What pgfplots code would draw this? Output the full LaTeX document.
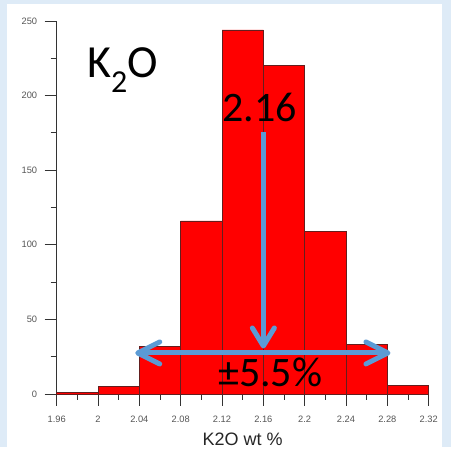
\documentclass[border=0pt]{standalone}
\usepackage{pgfplots}
\pgfplotsset{compat=1.18}
\usepackage{fontspec}
\setmainfont{Liberation Sans}
\newfontfamily\calibri{Carlito}
\usetikzlibrary{arrows.meta}
\definecolor{bgblue}{RGB}{222,235,247}
\definecolor{arrowblue}{RGB}{91,155,213}
\definecolor{barred}{RGB}{255,0,0}
\definecolor{baredge}{RGB}{100,30,30}
\definecolor{ticklab}{RGB}{85,85,85}
\begin{document}
\begin{tikzpicture}
\fill[bgblue] (0,0) rectangle (451pt,447pt);
\fill[white] (7pt,0) rectangle (442pt,443pt);
\begin{axis}[
  at={(56.7pt,53pt)}, anchor=south west,
  scale only axis, width=372pt, height=373pt,
  xmin=1.96, xmax=2.32, ymin=0, ymax=250,
  axis x line=bottom, axis y line=left,
  axis line style={-, black!80, line width=0.8pt},
  xtick={1.96,2,2.04,2.08,2.12,2.16,2.2,2.24,2.28,2.32},
  xticklabels={1.96,2,2.04,2.08,2.12,2.16,2.2,2.24,2.28,2.32},
  ytick={0,50,100,150,200,250},
  minor x tick num=1, minor y tick num=1,
  tick align=outside,
  major tick length=12pt, minor tick length=6pt,
  tick style={black!80, line width=0.8pt},
  ticklabel style={font=\fontsize{9.3}{10}\selectfont, text=ticklab},
  xticklabel style={yshift=-6pt},
  yticklabel style={xshift=-4pt},
  /pgf/number format/assume math mode=true,
  xlabel={K2O wt \%},
  xlabel style={font=\fontsize{18}{20}\selectfont, text=black!85, yshift=-3.5pt},
  clip=false,
]
\addplot[ybar interval, fill=barred, draw=baredge, line width=0.6pt] coordinates {
(1.96,1) (2.00,5) (2.04,32) (2.08,116) (2.12,244) (2.16,220) (2.20,109) (2.24,33) (2.28,6) (2.32,6)};
\draw[arrowblue, line width=5pt, -{Straight Barb[length=18pt,width=22pt,round]}] (axis cs:2.16,175.6) -- (axis cs:2.16,30.5);
\draw[arrowblue, line width=5pt, {Straight Barb[length=22pt,width=22pt,round]}-{Straight Barb[length=22pt,width=22pt,round]}] (axis cs:2.036,27.5) -- (axis cs:2.283,27.5);
\end{axis}
\node[anchor=base west, inner sep=0, font=\calibri\fontsize{42}{42}\selectfont] at (222pt,325pt) {2.16};
\node[anchor=base west, inner sep=0, font=\calibri\fontsize{42}{42}\selectfont] at (218pt,60pt) {±5.5\%};
\node[anchor=base west, inner sep=0, font=\calibri\fontsize{46}{46}\selectfont] at (87pt,369pt) {K\raisebox{-15pt}{\fontsize{32}{32}\selectfont 2}O};
\end{tikzpicture}
\end{document}
